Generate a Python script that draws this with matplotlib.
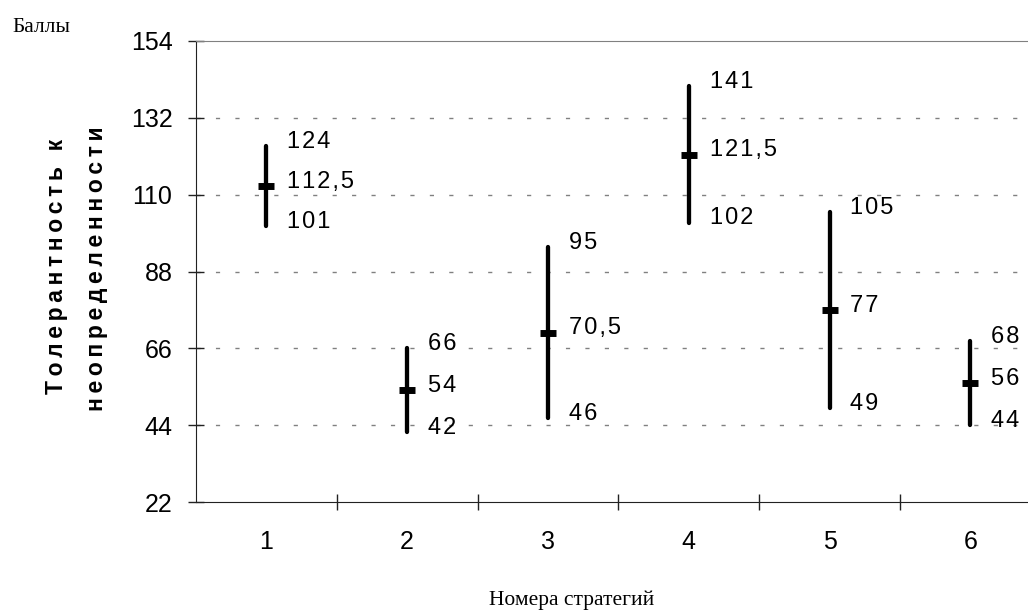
import matplotlib
matplotlib.use("Agg")
import matplotlib.pyplot as plt

# strategy numbers and tolerance-to-uncertainty scores (min / mean / max)
strategies = [1, 2, 3, 4, 5, 6]
low = [101, 42, 46, 102, 49, 44]
mean = [112.5, 54, 70.5, 121.5, 77, 56]
high = [124, 66, 95, 141, 105, 68]
yticks = [22, 44, 66, 88, 110, 132, 154]

SANS = ["Liberation Sans", "DejaVu Sans"]
SERIF = ["Liberation Serif", "DejaVu Serif"]
HAIR = "\u200a"
THIN = "\u2009"


def spaced(text, gap):
    return gap.join(text)


def fmt(v):
    s = f"{v:g}".replace(".", ",")
    return spaced(s, HAIR)


fig = plt.figure(figsize=(10.28, 6.10), dpi=100)
ax = fig.add_axes([196 / 1028, 1 - 502 / 610, 1 - 196 / 1028, (502 - 41) / 610])

ax.set_xlim(0.5, 6.41)
ax.set_ylim(22, 154)

for y in yticks[1:-1]:
    ax.axhline(y, color="#808080", lw=1, ls=(0, (3, 11)), zorder=0)

ax.spines["right"].set_visible(False)
ax.spines["top"].set_color("#808080")
ax.spines["left"].set_color("#222222")
ax.spines["bottom"].set_color("#222222")

ax.vlines(strategies, low, high, colors="black", lw=3.1, capstyle="round", zorder=3)
ax.plot(strategies, mean, ls="none", marker="_", ms=12, mew=5, color="black", zorder=4)

for x, lo, m, hi in zip(strategies, low, mean, high):
    for v in (lo, m, hi):
        ax.annotate(fmt(v), (x, v), xytext=(15, 3), textcoords="offset points",
                    ha="left", va="center", fontsize=17, family=SANS)

ax.set_yticks(yticks)
ax.set_yticklabels([str(t) for t in yticks], family=SANS, fontsize=18)
ax.tick_params(axis="y", direction="inout", length=12, width=1, pad=11, color="#222222")

ax.set_xticks([1.5, 2.5, 3.5, 4.5, 5.5])
ax.set_xticklabels([])
ax.tick_params(axis="x", which="major", direction="inout", length=12, width=1, color="#222222")
ax.set_xticks(strategies, minor=True)
ax.set_xticklabels([str(s) for s in strategies], minor=True, family=SANS, fontsize=18)
ax.tick_params(axis="x", which="minor", length=0, pad=20)

fig.text(12 / 1028, 1 - 27 / 610, "Баллы", family=SERIF, fontsize=15.5,
         ha="left", va="center")
fig.text(572 / 1028, 1 - 600 / 610, "Номера стратегий", family=SERIF, fontsize=15.5,
         ha="center", va="center")
fig.text(57 / 1028, 1 - 266 / 610, spaced("Толерантность к", THIN), family=SANS,
         fontsize=16.5, fontweight="bold", rotation=90, ha="center", va="center")
fig.text(97 / 1028, 1 - 269 / 610, spaced("неопределенности", THIN), family=SANS,
         fontsize=16.5, fontweight="bold", rotation=90, ha="center", va="center")

fig.savefig("out.png", dpi=100)
